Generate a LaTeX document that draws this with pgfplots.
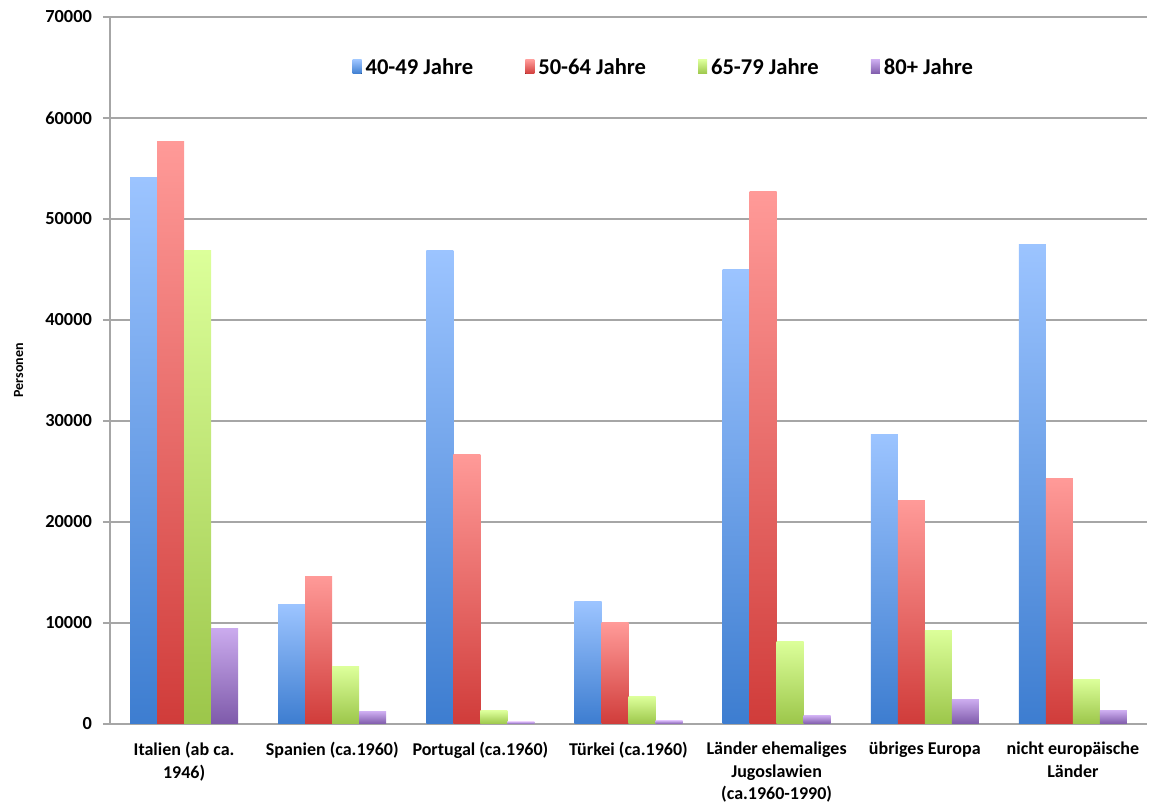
\documentclass[border=0pt]{standalone}
\usepackage{fontspec}
\setmainfont{Carlito}
\usepackage{pgfplots}
\pgfplotsset{compat=1.18}
\definecolor{bluetop}{HTML}{9CC4FF}
\definecolor{bluebot}{HTML}{3D7DD0}
\definecolor{redtop}{HTML}{FF9A98}
\definecolor{redbot}{HTML}{D03C3A}
\definecolor{greentop}{HTML}{DCFF9A}
\definecolor{greenbot}{HTML}{9CC64A}
\definecolor{purptop}{HTML}{CBABEE}
\definecolor{purpbot}{HTML}{7E5AAA}
\definecolor{gridgray}{HTML}{A6A6A6}
\pgfplotsset{
  sa/.style={top color=bluetop, bottom color=bluebot, bar shift=-20.25pt},
  sb/.style={top color=redtop, bottom color=redbot, bar shift=-6.75pt},
  sc/.style={top color=greentop, bottom color=greenbot, bar shift=6.75pt},
  sd/.style={top color=purptop, bottom color=purpbot, bar shift=20.25pt},
}
\begin{document}
\begin{tikzpicture}
\begin{axis}[
  name=ax,
  scale only axis,
  width=518.5pt, height=353.5pt,
  ybar=0pt, bar width=13.5pt,
  xmin=-0.5, xmax=6.5,
  ymin=0, ymax=70000,
  ytick={0,10000,...,70000},
  xtick={0,...,6},
  xticklabels={{Italien (ab ca.\\1946)},{Spanien (ca.1960)},{Portugal (ca.1960)},{Türkei (ca.1960)},{Länder ehemaliges\\Jugoslawien\\(ca.1960-1990)},{übriges Europa},{nicht europäische\\Länder}},
  xticklabel style={align=center, font=\bfseries\fontsize{9}{11.3}\selectfont, yshift=-2pt},
  yticklabel style={font=\bfseries\fontsize{9.2}{11}\selectfont, /pgf/number format/1000 sep={}, /pgf/number format/assume math mode=true, xshift=-2pt},
  scaled y ticks=false,
  axis x line*=bottom, axis y line*=left,
  axis line style={gridgray, line width=0.8pt},
  ymajorgrids, grid style={gridgray, line width=0.8pt},
  xtick style={draw=none},
  ytick style={gridgray, line width=0.8pt},
  tick align=outside, major tick length=3.5pt,
  ylabel={Personen},
  ylabel style={font=\bfseries\fontsize{7}{8}\selectfont, at={(axis description cs:-0.088,0.5)}, anchor=center},
  legend style={draw=none, fill=none, at={(axis description cs:0.535,0.928)}, anchor=center, font=\bfseries\fontsize{11.3}{13}\selectfont, legend columns=4, /tikz/every even column/.append style={column sep=24pt}},
  legend image code/.code={\fill[#1] (0pt,-3pt) rectangle (4.5pt,4pt);},
  every axis plot/.append style={draw=none, shading=axis, shading angle=0},
]
\addplot[sa] coordinates {(0,54100)};
\addplot[sb] coordinates {(0,57700)};
\addplot[sc] coordinates {(0,46900)};
\addplot[sd] coordinates {(0,9500)};
\legend{40-49 Jahre,50-64 Jahre,65-79 Jahre,80+ Jahre}
\addplot[sa,forget plot] coordinates {(1,11800)};
\addplot[sb,forget plot] coordinates {(1,14650)};
\addplot[sc,forget plot] coordinates {(1,5650)};
\addplot[sd,forget plot] coordinates {(1,1200)};
\addplot[sa,forget plot] coordinates {(2,46900)};
\addplot[sb,forget plot] coordinates {(2,26700)};
\addplot[sc,forget plot] coordinates {(2,1300)};
\addplot[sd,forget plot] coordinates {(2,200)};
\addplot[sa,forget plot] coordinates {(3,12100)};
\addplot[sb,forget plot] coordinates {(3,10000)};
\addplot[sc,forget plot] coordinates {(3,2700)};
\addplot[sd,forget plot] coordinates {(3,300)};
\addplot[sa,forget plot] coordinates {(4,45000)};
\addplot[sb,forget plot] coordinates {(4,52700)};
\addplot[sc,forget plot] coordinates {(4,8200)};
\addplot[sd,forget plot] coordinates {(4,800)};
\addplot[sa,forget plot] coordinates {(5,28700)};
\addplot[sb,forget plot] coordinates {(5,22100)};
\addplot[sc,forget plot] coordinates {(5,9300)};
\addplot[sd,forget plot] coordinates {(5,2400)};
\addplot[sa,forget plot] coordinates {(6,47500)};
\addplot[sb,forget plot] coordinates {(6,24300)};
\addplot[sc,forget plot] coordinates {(6,4400)};
\addplot[sd,forget plot] coordinates {(6,1300)};
\end{axis}
\pgfresetboundingbox
\path ([shift={(-55pt,-39.5pt)}]ax.south west) rectangle ([shift={(1.5pt,8.5pt)}]ax.north east);
\end{tikzpicture}
\end{document}
